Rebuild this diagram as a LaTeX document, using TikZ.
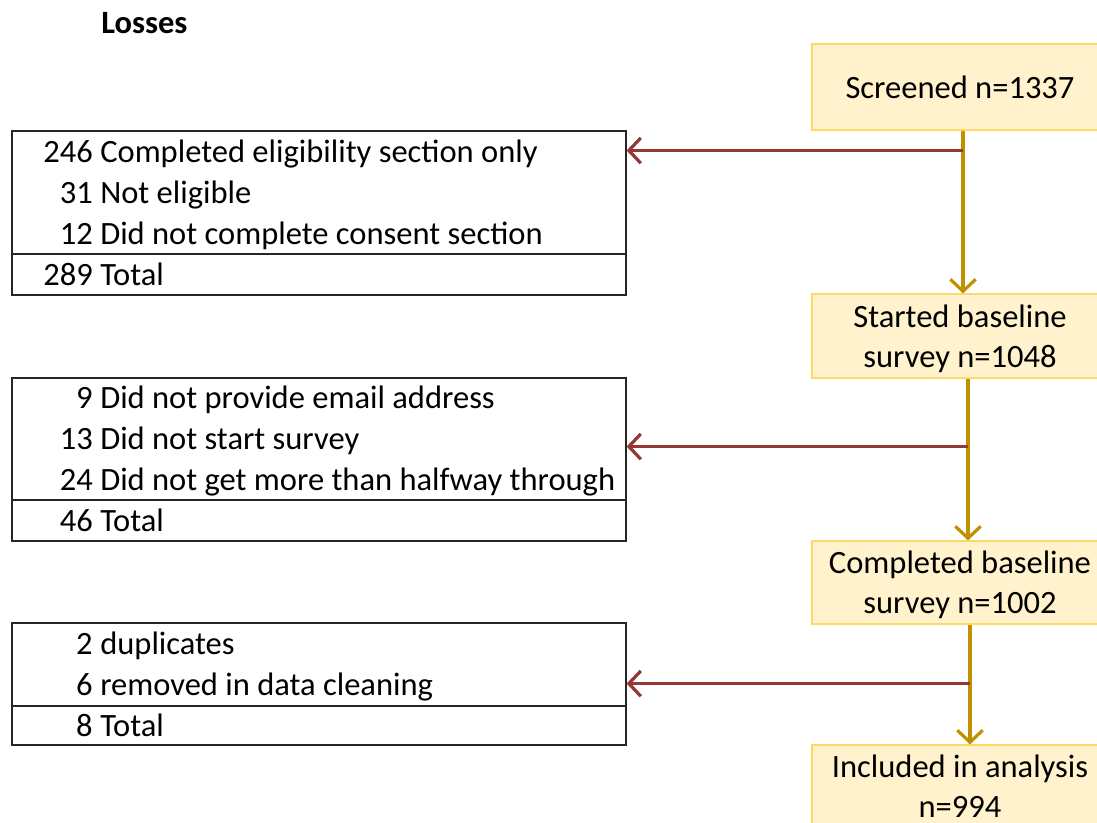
\documentclass[tikz,border=0pt]{standalone}
\usepackage{fontspec}
\setmainfont{Carlito}
\usetikzlibrary{arrows.meta,positioning,calc}

\definecolor{stagefill}{HTML}{FFF2CC}
\definecolor{stageline}{HTML}{FFD966}
\definecolor{flowgold}{HTML}{BF9000}
\definecolor{lossred}{HTML}{953735}
\newcommand{\txt}{\fontsize{24.4}{30}\selectfont}

\begin{document}
\begin{tikzpicture}[x=0.75pt,y=-0.75pt,
	stage/.style={draw=stageline, fill=stagefill, line width=0.8pt, minimum width=222pt, align=center, inner sep=0pt, font=\txt},
	lossbox/.style={draw=black!85, line width=0.9pt, minimum width=460.5pt, inner sep=0pt},
	num/.style={anchor=base east, inner sep=0pt, font=\txt},
	item/.style={anchor=base west, inner sep=0pt, font=\txt},
	flow/.style={draw=flowgold, line width=2.4pt, -{Straight Barb[length=9pt, width=19pt]}},
	loss/.style={draw=lossred, line width=2.4pt, -{Straight Barb[length=9pt, width=19pt]}}]
	\useasboundingbox (0,0) rectangle (1097,822);
	\clip (0,0) rectangle (1097,822);
	\node[anchor=base west, inner sep=0pt, font=\bfseries\txt] (losses) at (101,33) {Losses};
	% stages on the right
	\node[stage, minimum height=64.5pt] (screened) at (960,87) {Screened n=1337};
	\node[stage, minimum height=63pt, text depth=0pt] (started) at (960,336) {Started baseline\\survey n=1048};
	\node[stage, minimum height=62.25pt, text depth=0pt] (completed) at (960,582.5) {Completed baseline\\survey n=1002};
	\node[stage, minimum height=62.25pt] (included) at (960,786.5) {Included in analysis\\n=994};
	\draw[flow] ([xshift=2.25pt]screened.south) -- ([xshift=2.25pt]started.north);
	\draw[flow] ([xshift=6pt]started.south) -- ([xshift=6pt]completed.north);
	\draw[flow] ([xshift=7.5pt]completed.south) -- ([xshift=7.5pt]included.north);
	% losses on the left
	\node[lossbox, minimum height=123pt] (lossA) at (319,213) {};
	\node[lossbox, minimum height=122.25pt] (lossB) at (319,459.5) {};
	\node[lossbox, minimum height=91.5pt] (lossC) at (319,684) {};
	\draw[black!85, line width=0.9pt] (12,254) -- (626,254) (12,500) -- (626,500) (12,706) -- (626,706);
	\foreach \n/\t [count=\i from 0] in {246/Completed eligibility section only, 31/Not eligible, 12/Did not complete consent section, 289/Total}
		\node[num] (numA\i) at (93,162+41*\i) {\n} node[item] (itemA\i) at (100,162+41*\i) {\t};
	\foreach \n/\t [count=\i from 0] in {9/Did not provide email address, 13/Did not start survey, 24/Did not get more than halfway through, 46/Total}
		\node[num] (numB\i) at (93,408+41*\i) {\n} node[item] (itemB\i) at (100,408+41*\i) {\t};
	\foreach \n/\t [count=\i from 0] in {2/duplicates, 6/removed in data cleaning, 8/Total}
		\node[num] (numC\i) at (93,654+41*\i) {\n} node[item] (itemC\i) at (100,654+41*\i) {\t};
	% branches
	\path ([xshift=2.25pt]screened.south) ++(0,20) coordinate (jA);
	\path ([xshift=6pt]started.south) ++(0,68) coordinate (jB);
	\path ([xshift=7.5pt]completed.south) ++(0,59) coordinate (jC);
	\draw[loss] (jA) -- (jA -| lossA.east);
	\draw[loss] (jB) -- (jB -| lossB.east);
	\draw[loss] (jC) -- (jC -| lossC.east);
\end{tikzpicture}
\end{document}
